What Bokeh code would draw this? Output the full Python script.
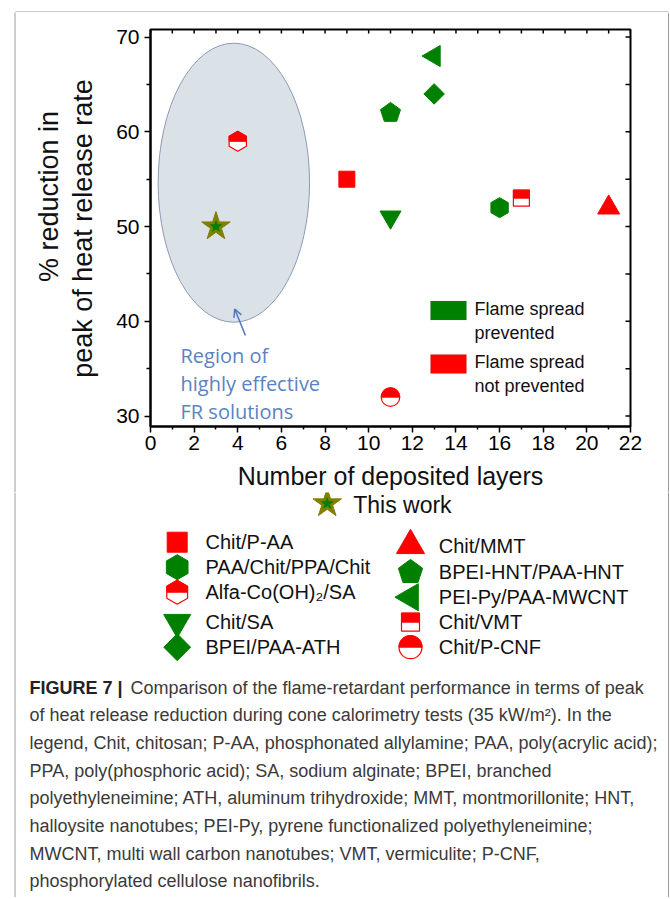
import math
from bokeh.plotting import figure
from bokeh.models import Range1d, LinearAxis, FixedTicker, Label, BoxAnnotation, Arrow, OpenHead
from bokeh.layouts import column, row
from bokeh.embed import file_html
from bokeh.resources import INLINE
from bokeh.core.properties import value

# ---------------- data ----------------
systems = ["Chit/P-AA", "PAA/Chit/PPA/Chit", "Alfa-Co(OH)\u2082/SA", "Chit/SA", "BPEI/PAA-ATH",
           "Chit/MMT", "BPEI-HNT/PAA-HNT", "PEI-Py/PAA-MWCNT", "Chit/VMT", "Chit/P-CNF"]
layers = [9, 16, 4, 11, 13, 21, 11, 13, 17, 11]
reduction = [55, 52, 59, 51, 64, 52, 62, 68, 53, 32]
prevented = [False, True, False, True, True, False, True, True, False, False]
this_work_name = "This work"
this_work_layers = [3]
this_work_reduction = [50]
x_ticks = [0, 2, 4, 6, 8, 10, 12, 14, 16, 18, 20, 22]
x_minor = [1, 3, 5, 7, 9, 11, 13, 15, 17, 19, 21]
x_top_ticks = list(range(0, 23))
y_ticks = [30, 40, 50, 60, 70]
y_minor = [35, 45, 55, 65]
y_right_ticks = [30, 35, 40, 45, 50, 55, 60, 65, 70]
x_label = "Number of deposited layers"
y_label_lines = ["% reduction in", "peak of heat release rate"]
region_lines = ["Region of", "highly effective", "FR solutions"]
status_lines = [["Flame spread", "prevented"], ["Flame spread", "not prevented"]]
caption_bold = "FIGURE 7 |"
caption_lines = [
    "Comparison of the flame-retardant performance in terms of peak",
    "of heat release reduction during cone calorimetry tests (35 kW/m\u00b2). In the",
    "legend, Chit, chitosan; P-AA, phosphonated allylamine; PAA, poly(acrylic acid);",
    "PPA, poly(phosphoric acid); SA, sodium alginate; BPEI, branched",
    "polyethyleneimine; ATH, aluminum trihydroxide; MMT, montmorillonite; HNT,",
    "halloysite nanotubes; PEI-Py, pyrene functionalized polyethyleneimine;",
    "MWCNT, multi wall carbon nanotubes; VMT, vermiculite; P-CNF,",
    "phosphorylated cellulose nanofibrils.",
]

# ---------------- styles ----------------
GREEN = "#008000"
RED = "#ff0000"
OLIVE = "#808000"
FONT = "Liberation Sans"
BORDER = "#9a9a9a"
kinds = ["square", "hex", "half_hex", "inverted_triangle", "diamond",
         "triangle", "pentagon", "left_triangle", "half_square", "half_circle"]
plot_sizes = [16, 20, 20, 21, 14.5, 22, 21, 21, 16, 18.5]
legend_sizes = [20, 25, 24, 27, 19, 28, 25.5, 27, 18, 23]

TOTAL_W = 670
TOP_H = 12
LEFT_W = 110
RIGHT_W = 3
PW = TOTAL_W - LEFT_W - RIGHT_W
H1 = 480
H2 = 405
ML, MR, MT, MB = 40, 37, 17, 66
FW = PW - ML - MR
FH = H1 - MT - MB
XR = (0, 22)
YR = (28.9, 70.8)
PPX = FW / (XR[1] - XR[0])
PPY = FH / (YR[1] - YR[0])


def blank(w, h, xr, yr):
    f = figure(width=w, height=h, x_range=Range1d(*xr), y_range=Range1d(*yr),
               x_axis_type=None, y_axis_type=None, output_backend="svg", toolbar_location=None,
               min_border=0, frame_align=False)
    f.outline_line_color = None
    f.border_fill_color = "white"
    f.background_fill_color = "white"
    return f


def draw_marker(fig, kind, x, y, size, color, kx, ky):
    def conv(pts):
        return [x + dx * kx for dx, dy in pts], [y + dy * ky for dx, dy in pts]
    if kind == "square":
        fig.scatter([x], [y], marker="square", size=size, fill_color=color, line_color=color)
    elif kind == "hex":
        fig.scatter([x], [y], marker="hex", angle=math.pi / 6, size=size, fill_color=color, line_color=color)
    elif kind == "diamond":
        fig.scatter([x], [y], marker="square", angle=math.pi / 4, size=size, fill_color=color, line_color=color)
    elif kind in ("triangle", "inverted_triangle"):
        fig.scatter([x], [y], marker=kind, size=size, fill_color=color, line_color=color)
    elif kind == "left_triangle":
        fig.scatter([x], [y], marker="triangle", angle=math.pi / 2, size=size, fill_color=color, line_color=color)
    elif kind == "pentagon":
        r = size / 2
        pts = [(r * math.cos(math.radians(90 + 72 * k)), r * math.sin(math.radians(90 + 72 * k))) for k in range(5)]
        xs, ys = conv(pts)
        fig.patch(xs, ys, fill_color=color, line_color=color)
    elif kind == "half_hex":
        r = size / 2
        c = math.sqrt(3) / 2
        fig.scatter([x], [y], marker="hex", angle=math.pi / 6, size=size, fill_color="white", line_color=color, line_width=1.2)
        xs, ys = conv([(0, r), (-c * r, r / 2), (-c * r, 0), (c * r, 0), (c * r, r / 2)])
        fig.patch(xs, ys, fill_color=color, line_color=color)
    elif kind == "half_square":
        h = size / 2
        fig.scatter([x], [y], marker="square", size=size, fill_color="white", line_color=color, line_width=1.2)
        xs, ys = conv([(-h, 0), (-h, h), (h, h), (h, 0)])
        fig.patch(xs, ys, fill_color=color, line_color=color)
    elif kind == "half_circle":
        r = size / 2
        fig.scatter([x], [y], marker="circle", size=size, fill_color="white", line_color=color, line_width=1.2)
        pts = [(r * math.cos(math.pi * i / 24), r * math.sin(math.pi * i / 24)) for i in range(25)]
        xs, ys = conv(pts)
        fig.patch(xs, ys, fill_color=color, line_color=color)


def draw_star(fig, x, y, size):
    fig.scatter([x], [y], marker="star", size=size, fill_color=OLIVE, line_color=OLIVE)
    fig.scatter([x], [y], marker="star", size=size * 0.38, fill_color=GREEN, line_color=GREEN)


# ---------------- top border strip ----------------
top = blank(TOTAL_W, TOP_H, (0, TOTAL_W), (TOP_H, 0))
top.segment(x0=[14.5], y0=[11.5], x1=[668], y1=[11.5], line_color=BORDER, line_width=1)

# ---------------- left strip with y axis title ----------------
left = blank(LEFT_W, H1, (0, LEFT_W), (TOP_H + H1, TOP_H))
left.segment(x0=[14.5], y0=[TOP_H], x1=[14.5], y1=[TOP_H + H1], line_color=BORDER, line_width=1)
left.text(x=[48, 82], y=[196, 228], text=y_label_lines, angle=math.pi / 2, text_align="center",
          text_baseline="alphabetic", text_font=value(FONT), text_font_size=value("27px"),
          text_color="#111111")

# ---------------- right strip ----------------
right = blank(RIGHT_W, H1, (TOTAL_W - RIGHT_W, TOTAL_W), (TOP_H + H1, TOP_H))
right.segment(x0=[668], y0=[TOP_H], x1=[668], y1=[TOP_H + H1], line_color=BORDER, line_width=1)

# ---------------- main plot ----------------
p = figure(width=PW, height=H1, x_range=Range1d(*XR), y_range=Range1d(*YR),
           x_axis_type=None, y_axis_type=None, output_backend="svg", toolbar_location=None,
           min_border_left=ML, min_border_right=MR, min_border_top=MT, min_border_bottom=MB,
           frame_align=False)
p.outline_line_color = "black"
p.outline_line_width = 2
p.background_fill_color = "white"
p.border_fill_color = "white"


def style_axis(ax):
    ax.axis_line_width = 2
    ax.axis_line_color = "black"
    ax.major_tick_line_width = 1.5
    ax.minor_tick_line_width = 1.5
    ax.major_tick_line_color = "black"
    ax.minor_tick_line_color = "black"
    ax.major_label_text_font = FONT
    ax.major_label_text_font_size = "21px"
    ax.major_label_text_color = "black"


xb = LinearAxis(ticker=FixedTicker(ticks=x_ticks, minor_ticks=x_minor))
style_axis(xb)
xb.major_tick_out = 6
xb.major_tick_in = 0
xb.minor_tick_out = 3
xb.minor_tick_in = 0
xb.major_label_standoff = 3
xb.axis_label = x_label
xb.axis_label_text_font = FONT
xb.axis_label_text_font_size = "25px"
xb.axis_label_text_font_style = "normal"
xb.axis_label_text_color = "#111111"
xb.axis_label_standoff = 9
p.add_layout(xb, "below")

yl = LinearAxis(ticker=FixedTicker(ticks=y_ticks, minor_ticks=y_minor))
style_axis(yl)
yl.major_tick_out = 6
yl.major_tick_in = 0
yl.minor_tick_out = 4
yl.minor_tick_in = 0
yl.major_label_standoff = 5
p.add_layout(yl, "left")

# inward ticks along the top and right edges of the box
top_len = 4 / PPY
p.segment(x0=x_top_ticks, y0=[YR[1]] * len(x_top_ticks), x1=x_top_ticks,
          y1=[YR[1] - top_len] * len(x_top_ticks), line_color="black", line_width=1.5)
right_len = 5 / PPX
p.segment(x0=[XR[1]] * len(y_right_ticks), y0=y_right_ticks, x1=[XR[1] - right_len] * len(y_right_ticks),
          y1=y_right_ticks, line_color="black", line_width=1.5)

# highlighted region
p.ellipse(x=[3.82], y=[54.63], width=[6.94], height=[29.45], fill_color="#dae2e8",
          line_color="#8a9ab3", line_width=1)
p.add_layout(Arrow(end=OpenHead(size=8, line_color="#4f77b8", line_width=1.5),
                   x_start=4.35, y_start=38.5, x_end=3.86, y_end=41.3,
                   line_color="#4f77b8", line_width=1.5))
for line, by in zip(region_lines, [71, 43, 15]):
    p.add_layout(Label(x=30, y=by, x_units="screen", y_units="screen", text=line,
                       text_baseline="alphabetic", text_font="Open Sans", text_font_size="20px",
                       text_color="#5b82c2"))

# data points
for kind, s, xv, yv, ok in zip(kinds, plot_sizes, layers, reduction, prevented):
    draw_marker(p, kind, xv, yv, s, GREEN if ok else RED, 1 / PPX, 1 / PPY)
draw_star(p, this_work_layers[0], this_work_reduction[0], 30)

# flame-spread key
for (l1, l2), col, tp in zip(status_lines, [GREEN, RED], [125.5, 72]):
    p.add_layout(BoxAnnotation(left=280, right=316, top=tp, bottom=tp - 19,
                               left_units="screen", right_units="screen", top_units="screen", bottom_units="screen",
                               fill_color=col, fill_alpha=1, line_color="#7a7a7a", line_width=0.5))
    p.add_layout(Label(x=324, y=tp - 7.5, x_units="screen", y_units="screen", text=l1,
                       text_baseline="middle", text_font=FONT, text_font_size="18px", text_color="#111111"))
    p.add_layout(Label(x=324, y=tp - 31.5, x_units="screen", y_units="screen", text=l2,
                       text_baseline="middle", text_font=FONT, text_font_size="18px", text_color="#111111"))

# ---------------- legend + caption panel ----------------
Y0 = TOP_H + H1
q = blank(TOTAL_W, H2, (0, TOTAL_W), (Y0 + H2, Y0))
q.segment(x0=[14.5, 668], y0=[Y0, Y0], x1=[14.5, 668], y1=[Y0 + H2, Y0 + H2], line_color=BORDER, line_width=1)

draw_star(q, 326.7, 503, 30)
q.text(x=[352.7], y=[504], text=[this_work_name], text_font=value(FONT), text_font_size=value("23px"),
       text_baseline="middle", text_color="#111111")

key_x = [176.7] * 5 + [410] * 5
key_y = [541.7, 566.7, 591.7, 621.7, 646.7, 545, 571.7, 596.7, 621.7, 646.7]
text_x = [205] * 5 + [438.3] * 5
for kind, s, kxp, kyp, ok in zip(kinds, legend_sizes, key_x, key_y, prevented):
    draw_marker(q, kind, kxp, kyp, s, GREEN if ok else RED, 1, -1)
q.text(x=text_x, y=key_y, text=systems, text_font=value(FONT), text_font_size=value("20px"),
       text_baseline="middle", text_color="#111111")

cap_y = [687 + 27.7 * i for i in range(len(caption_lines))]
q.text(x=[29], y=[cap_y[0]], text=[caption_bold], text_font=value(FONT), text_font_size=value("18px"),
       text_font_style="bold", text_baseline="middle", text_color="#222222")
q.text(x=[130] + [29] * (len(caption_lines) - 1), y=cap_y, text=caption_lines, text_font=value(FONT),
       text_font_size=value("18px"), text_baseline="middle", text_color="#3a3a3a")

layout = column(top, row(left, p, right), q)
open("out.html", "w").write(file_html(layout, INLINE))
